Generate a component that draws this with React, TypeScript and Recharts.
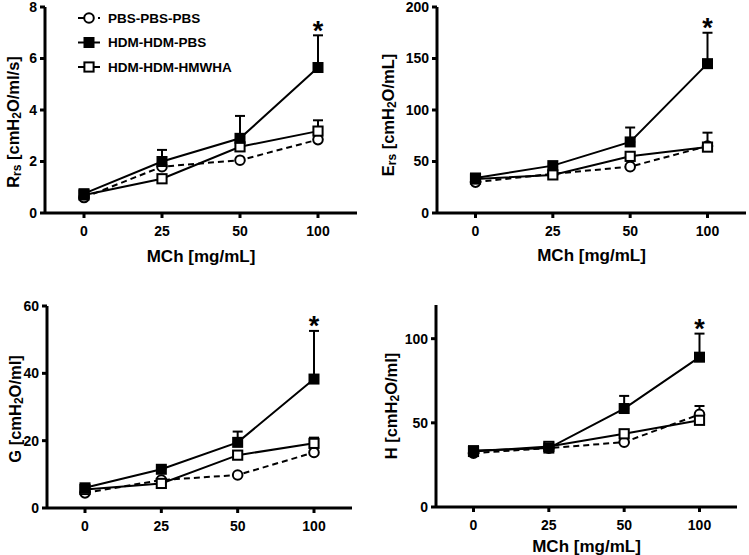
import React from 'react';
import { LineChart, Line, XAxis, YAxis, ErrorBar, ReferenceDot, Legend } from 'recharts';

// ---------- data ----------
const doses = ['0', '25', '50', '100'];
const seriesNames = ['PBS-PBS-PBS', 'HDM-HDM-PBS', 'HDM-HDM-HMWHA'];
const xTitle = 'MCh [mg/mL]';

// Rrs
const rrsPbs = [0.6, 1.8, 2.05, 2.85];
const rrsPbsErr = [0, 0, 0, 0];
const rrsHdm = [0.75, 2.0, 2.9, 5.65];
const rrsHdmErr = [0, 0.45, 0.87, 1.25];
const rrsHa = [0.7, 1.33, 2.57, 3.18];
const rrsHaErr = [0, 0, 0, 0.42];
const rrsTicks = [0, 2, 4, 6, 8];

// Ers
const ersPbs = [30, 38, 45, 65];
const ersPbsErr = [0, 0, 0, 0];
const ersHdm = [34, 46, 69, 145];
const ersHdmErr = [0, 2, 14, 30];
const ersHa = [33, 37, 55, 64];
const ersHaErr = [0, 0, 0, 14];
const ersTicks = [0, 50, 100, 150, 200];

// G
const gPbs = [4.5, 8.3, 9.8, 16.5];
const gPbsErr = [0, 0, 0, 0];
const gHdm = [6, 11.5, 19.5, 38.3];
const gHdmErr = [0, 1, 3.2, 14.3];
const gHa = [5.5, 7.3, 15.7, 19.2];
const gHaErr = [0, 0, 0, 1.7];
const gTicks = [0, 20, 40, 60];

// H
const hPbs = [32, 35, 38.5, 55];
const hPbsErr = [0, 0, 0, 0];
const hHdm = [33.5, 35, 58.5, 89];
const hHdmErr = [0, 0, 7.5, 14];
const hHa = [33, 36, 43.5, 51.5];
const hHaErr = [0, 0, 0, 8.5];
const hTicks = [0, 50, 100];

// titles: [text, isSubscript]
const rrsTitle: [string, boolean][] = [['R', false], ['rs', true], [' [cmH', false], ['2', true], ['O/ml/s]', false]];
const ersTitle: [string, boolean][] = [['E', false], ['rs', true], [' [cmH', false], ['2', true], ['O/mL]', false]];
const gTitle: [string, boolean][] = [['G [cmH', false], ['2', true], ['O/ml]', false]];
const hTitle: [string, boolean][] = [['H [cmH', false], ['2', true], ['O/ml]', false]];

// ---------- helpers ----------
const FONT = '"Liberation Sans", Arial, Helvetica, sans-serif';

const buildData = (pbs: number[], pbsErr: number[], hdm: number[], hdmErr: number[], ha: number[], haErr: number[]) =>
  doses.map((d, i) => ({
    dose: d,
    pbs: pbs[i],
    pbsErr: [0, pbsErr[i]],
    hdm: hdm[i],
    hdmErr: [0, hdmErr[i]],
    ha: ha[i],
    haErr: [0, haErr[i]],
  }));

const Marker = ({ kind, cx, cy }: { kind: string; cx: number; cy: number }) => {
  if (kind === 'circle') return <circle cx={cx} cy={cy} r={4.8} fill="#fff" stroke="#000" strokeWidth={2} />;
  if (kind === 'filled') return <rect x={cx - 5.5} y={cy - 5.5} width={11} height={11} fill="#000" />;
  return <rect x={cx - 4.6} y={cy - 4.6} width={9.2} height={9.2} fill="#fff" stroke="#000" strokeWidth={2} />;
};

const dotFor = (kind: string) => (p: any) => (
  <g key={`dot-${kind}-${p.index}`}>
    <Marker kind={kind} cx={p.cx} cy={p.cy} />
  </g>
);

const YTitle = (props: any) => {
  const { viewBox, parts, dx, dy } = props;
  const vb = viewBox || { x: 0, y: 0, width: 0, height: 0 };
  const cx = vb.x + dx;
  const cy = vb.y + vb.height / 2 + dy;
  let shift = 0;
  return (
    <text
      x={cx}
      y={cy}
      transform={`rotate(-90 ${cx} ${cy})`}
      textAnchor="middle"
      dominantBaseline="central"
      fontFamily={FONT}
      fontWeight={700}
      fontSize={16.5}
      fill="#000"
    >
      {parts.map(([t, sub]: [string, boolean], i: number) => {
        const target = sub ? 4 : 0;
        const d = target - shift;
        shift = target;
        return (
          <tspan key={i} dy={d} fontSize={sub ? 12 : 16.5}>
            {t}
          </tspan>
        );
      })}
    </text>
  );
};

const XTitle = (props: any) => {
  const { viewBox, offsetY } = props;
  const vb = viewBox || { x: 0, y: 0, width: 0, height: 0 };
  return (
    <text
      x={vb.x + vb.width / 2}
      y={vb.y + offsetY}
      textAnchor="middle"
      fontFamily={FONT}
      fontWeight={700}
      fontSize={17}
      fill="#000"
    >
      {xTitle}
    </text>
  );
};

const Star = (p: any) => (
  <text x={p.cx} y={p.cy + 4.5} textAnchor="middle" fontFamily={FONT} fontWeight={700} fontSize={27} fill="#000">
    *
  </text>
);

const legendKinds = ['circle', 'filled', 'open'];
const LegendContent = () => (
  <svg width={230} height={80} style={{ overflow: 'visible', display: 'block' }}>
    {seriesNames.map((name, i) => {
      const y = 18 + i * 24.5;
      return (
        <g key={name}>
          <line x1={78} x2={100} y1={y} y2={y} stroke="#000" strokeWidth={2} strokeDasharray={i === 0 ? '6 4' : undefined} />
          <Marker kind={legendKinds[i]} cx={89} cy={y} />
          <text x={108} y={y} dominantBaseline="central" fontFamily={FONT} fontWeight={700} fontSize={13.5} fill="#000">
            {name}
          </text>
        </g>
      );
    })}
  </svg>
);

type Panel = {
  key: string;
  left: number;
  top: number;
  width: number;
  height: number;
  margin: { top: number; right: number; left: number; bottom: number };
  yWidth: number;
  xHeight: number;
  xPad: number;
  domain: [number, number];
  ticks: number[];
  data: any[];
  star: number;
  yTitle: [string, boolean][];
  yTitleDx: number;
  yTitleDy: number;
  xTitleOffset: number | null;
  legend: boolean;
};

const panels: Panel[] = [
  {
    key: 'rrs', left: 0, top: 0, width: 374, height: 277,
    margin: { top: 7, right: 17, left: 0, bottom: 14 }, yWidth: 45, xHeight: 50, xPad: 39,
    domain: [0, 8], ticks: rrsTicks,
    data: buildData(rrsPbs, rrsPbsErr, rrsHdm, rrsHdmErr, rrsHa, rrsHaErr),
    star: rrsHdm[3] + rrsHdmErr[3],
    yTitle: rrsTitle, yTitleDx: 13, yTitleDy: 12, xTitleOffset: 49, legend: true,
  },
  {
    key: 'ers', left: 374, top: 0, width: 375, height: 277,
    margin: { top: 7, right: 3, left: 0, bottom: 14 }, yWidth: 63, xHeight: 50, xPad: 38.5,
    domain: [0, 200], ticks: ersTicks,
    data: buildData(ersPbs, ersPbsErr, ersHdm, ersHdmErr, ersHa, ersHaErr),
    star: ersHdm[3] + ersHdmErr[3],
    yTitle: ersTitle, yTitleDx: 14, yTitleDy: 5, xTitleOffset: 48, legend: false,
  },
  {
    key: 'g', left: 0, top: 277, width: 374, height: 278,
    margin: { top: 29, right: 22, left: 0, bottom: 7 }, yWidth: 47, xHeight: 40, xPad: 38,
    domain: [0, 60], ticks: gTicks,
    data: buildData(gPbs, gPbsErr, gHdm, gHdmErr, gHa, gHaErr),
    star: gHdm[3] + gHdmErr[3],
    yTitle: gTitle, yTitleDx: 15, yTitleDy: 2, xTitleOffset: null, legend: false,
  },
  {
    key: 'h', left: 374, top: 277, width: 375, height: 278,
    margin: { top: 28, right: 12, left: 0, bottom: 8 }, yWidth: 62, xHeight: 40, xPad: 37.5,
    domain: [0, 120], ticks: hTicks,
    data: buildData(hPbs, hPbsErr, hHdm, hHdmErr, hHa, hHaErr),
    star: hHdm[3] + hHdmErr[3],
    yTitle: hTitle, yTitleDx: 17, yTitleDy: 0, xTitleOffset: 45, legend: false,
  },
];

const tickStyle = { fontSize: 14, fontWeight: 700, fill: '#000', fontFamily: FONT };

const PanelChart = ({ p }: { p: Panel }) => (
  <div style={{ position: 'absolute', left: p.left, top: p.top, width: p.width, height: p.height }}>
    <LineChart width={p.width} height={p.height} data={p.data} margin={p.margin}>
      <XAxis
        dataKey="dose"
        type="category"
        height={p.xHeight}
        padding={{ left: p.xPad, right: p.xPad }}
        stroke="#000"
        strokeWidth={3}
        tickSize={5}
        tickMargin={8}
        tick={tickStyle}
        interval={0}
        label={p.xTitleOffset !== null ? <XTitle offsetY={p.xTitleOffset} /> : undefined}
      />
      <YAxis
        type="number"
        domain={p.domain}
        ticks={p.ticks}
        interval={0}
        width={p.yWidth}
        stroke="#000"
        strokeWidth={3}
        tickSize={5}
        tickMargin={3}
        tick={tickStyle}
        allowDataOverflow
        label={<YTitle parts={p.yTitle} dx={p.yTitleDx} dy={p.yTitleDy} />}
      />
      <Line
        dataKey="pbs"
        type="linear"
        stroke="#000"
        strokeWidth={2}
        strokeDasharray="6 4"
        dot={dotFor('circle')}
        activeDot={false}
        isAnimationActive={false}
      >
        <ErrorBar dataKey="pbsErr" width={5} stroke="#000" strokeWidth={2} />
      </Line>
      <Line
        dataKey="ha"
        type="linear"
        stroke="#000"
        strokeWidth={2}
        dot={dotFor('open')}
        activeDot={false}
        isAnimationActive={false}
      >
        <ErrorBar dataKey="haErr" width={5} stroke="#000" strokeWidth={2} />
      </Line>
      <Line
        dataKey="hdm"
        type="linear"
        stroke="#000"
        strokeWidth={2}
        dot={dotFor('filled')}
        activeDot={false}
        isAnimationActive={false}
      >
        <ErrorBar dataKey="hdmErr" width={5} stroke="#000" strokeWidth={2} />
      </Line>
      <ReferenceDot x="100" y={p.star} shape={Star} ifOverflow="visible" />
      {p.legend && (
        <Legend
          layout="vertical"
          align="center"
          verticalAlign="middle"
          wrapperStyle={{ top: 0, left: 0, width: 230, height: 80 }}
          content={<LegendContent />}
        />
      )}
    </LineChart>
  </div>
);

export default function App() {
  return (
    <div style={{ position: 'absolute', left: 0, top: 0, width: 749, height: 555, background: '#fff', fontFamily: FONT }}>
      {panels.map((p) => (
        <PanelChart key={p.key} p={p} />
      ))}
    </div>
  );
}
